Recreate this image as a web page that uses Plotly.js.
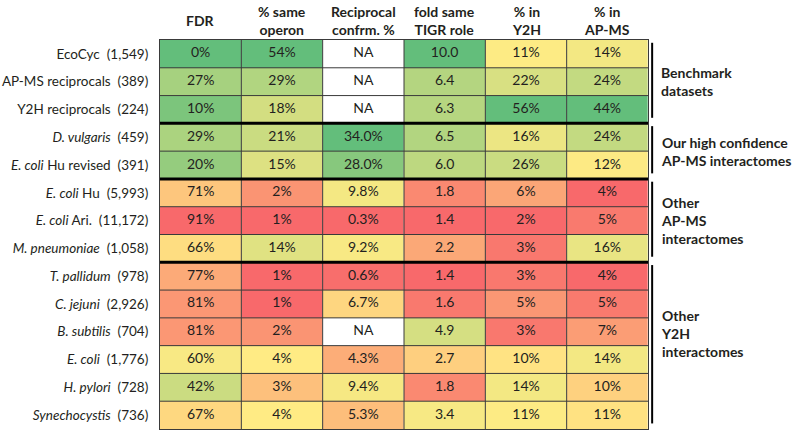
<!DOCTYPE html>
<html>
<head>
<meta charset="utf-8">
<script src="https://cdn.plot.ly/plotly-3.0.1.min.js"></script>
<style>html,body{margin:0;padding:0;background:#fff;}</style>
</head>
<body>
<div id="chart" style="width:792px;height:430px;"></div>
<script>
// ---- data ----
const rowNames = ["EcoCyc", "AP-MS reciprocals", "Y2H reciprocals", "<i>D. vulgaris</i>", "<i>E. coli</i> Hu revised",
  "<i>E. coli</i> Hu", "<i>E. coli</i> Ari.", "<i>M. pneumoniae</i>", "<i>T. pallidum</i>", "<i>C. jejuni</i>",
  "<i>B. subtilis</i>", "<i>E. coli</i>", "<i>H. pylori</i>", "<i>Synechocystis</i>"];
const rowCounts = ["1,549", "389", "224", "459", "391", "5,993", "11,172", "1,058", "978", "2,926", "704", "1,776", "728", "736"];
const columns = ["FDR", "% same<br>operon", "Reciprocal<br>confrm. %", "fold same<br>TIGR role", "% in<br>Y2H", "% in<br>AP-MS"];
const fdr        = [0, 27, 10, 29, 20, 71, 91, 66, 77, 81, 81, 60, 42, 67];
const sameOperon = [54, 29, 18, 21, 15, 2, 1, 14, 1, 1, 2, 4, 3, 4];
const reciprocal = [null, null, null, 34.0, 28.0, 9.8, 0.3, 9.2, 0.6, 6.7, null, 4.3, 9.4, 5.3];
const foldTigr   = [10.0, 6.4, 6.3, 6.5, 6.0, 1.8, 1.4, 2.2, 1.4, 1.6, 4.9, 2.7, 1.8, 3.4];
const inY2H      = [11, 22, 56, 16, 26, 6, 2, 3, 3, 5, 3, 10, 14, 11];
const inAPMS     = [14, 24, 44, 24, 12, 4, 5, 16, 4, 5, 7, 14, 10, 11];
const groupNames  = ["Benchmark<br>datasets", "Our high confidence<br>AP-MS interactomes", "Other<br>AP-MS<br>interactomes", "Other<br>Y2H<br>interactomes"];
const groupStarts = [0, 3, 5, 8];
const groupEnds   = [2, 4, 7, 13];

// ---- styling ----
const RED = "#F8696B", YEL = "#FFEB84", GRN = "#63BE7B";
const FONT = "Lato, 'Open Sans', sans-serif";
const colData = [fdr, sameOperon, reciprocal, foldTigr, inY2H, inAPMS];
const lowIsGood = [true, false, false, false, false, false];
const fmt = [
  v => v + "%", v => v + "%", v => v === null ? "NA" : v.toFixed(1) + "%",
  v => v.toFixed(1), v => v + "%", v => v + "%"
];
const labelShift = [0, 0, 0, 12];

function median(a) {
  const s = a.filter(v => v !== null).slice().sort((p, q) => p - q);
  const n = s.length;
  return n % 2 ? s[(n - 1) / 2] : (s[n / 2 - 1] + s[n / 2]) / 2;
}

const rowIdx = rowNames.map((_, i) => i);
const traces = [];
colData.forEach((vals, c) => {
  const nn = vals.filter(v => v !== null);
  const mn = Math.min(...nn), mx = Math.max(...nn), md = median(vals);
  const p = (md - mn) / (mx - mn);
  const cs = lowIsGood[c] ? [[0, GRN], [p, YEL], [1, RED]] : [[0, RED], [p, YEL], [1, GRN]];
  traces.push({
    type: "heatmap", x0: c, dx: 1, y0: 0, dy: 1,
    z: vals.map(v => [v]), zmin: mn, zmax: mx, colorscale: cs,
    showscale: false, hoverinfo: "skip"
  });
});
colData.forEach((vals, c) => {
  traces.push({
    type: "scatter", mode: "text", x: vals.map(() => c), y: rowIdx,
    text: vals.map(fmt[c]), textfont: {family: FONT, size: 14, color: "#231f20"},
    hoverinfo: "skip", showlegend: false, cliponaxis: false
  });
});

const shapes = [];
for (let c = 0; c < columns.length - 1; c++) {
  shapes.push({type: "line", xref: "x", yref: "paper", x0: c + 0.5, x1: c + 0.5, y0: 0, y1: 1,
    line: {color: "#3a3a3a", width: 1}});
}
for (let r = 0; r < rowNames.length - 1; r++) {
  const thick = groupEnds.indexOf(r) >= 0;
  shapes.push({type: "line", xref: "paper", yref: "y", x0: 0, x1: 1, y0: r + 0.5, y1: r + 0.5,
    line: {color: thick ? "#000" : "#3a3a3a", width: thick ? 3 : 1}});
}
groupStarts.forEach((s, g) => {
  shapes.push({type: "line", xref: "paper", yref: "y", x0: 1.0085, x1: 1.0085,
    y0: s - 0.4, y1: groupEnds[g] + 0.3, line: {color: "#000", width: 2}});
});

const annotations = [];
columns.forEach((name, c) => {
  annotations.push({xref: "x", yref: "paper", x: c, y: 1, yshift: 20, yanchor: "middle", xanchor: "center",
    text: "<b>" + name + "</b>", showarrow: false, align: "center",
    font: {family: FONT, size: 14, color: "#231f20"}});
});
groupNames.forEach((name, g) => {
  annotations.push({xref: "paper", yref: "y", x: 1.0225, xanchor: "left", yanchor: "middle",
    y: (groupStarts[g] + groupEnds[g]) / 2, yshift: labelShift[g],
    text: "<b>" + name + "</b>", showarrow: false, align: "left",
    font: {family: FONT, size: 14, color: "#231f20"}});
});

const layout = {
  width: 792, height: 430,
  margin: {l: 160, r: 144, t: 40, b: 1, pad: 0},
  paper_bgcolor: "#fff", plot_bgcolor: "#fff",
  showlegend: false,
  xaxis: {range: [-0.5, 5.5], showgrid: false, zeroline: false, showticklabels: false, ticks: "",
    showline: true, mirror: true, linecolor: "#3a3a3a", linewidth: 1, fixedrange: true},
  yaxis: {range: [13.5, -0.5], showgrid: false, zeroline: false, ticks: "",
    tickvals: rowIdx, ticktext: rowNames.map((n, i) => n + "\u00a0 (" + rowCounts[i] + ")"),
    tickfont: {family: FONT, size: 13.5, color: "#231f20"}, ticklabelstandoff: 8,
    showline: true, mirror: true, linecolor: "#3a3a3a", linewidth: 1, fixedrange: true},
  shapes: shapes,
  annotations: annotations
};

Plotly.newPlot("chart", traces, layout, {displayModeBar: false, staticPlot: true});
</script>
</body>
</html>
